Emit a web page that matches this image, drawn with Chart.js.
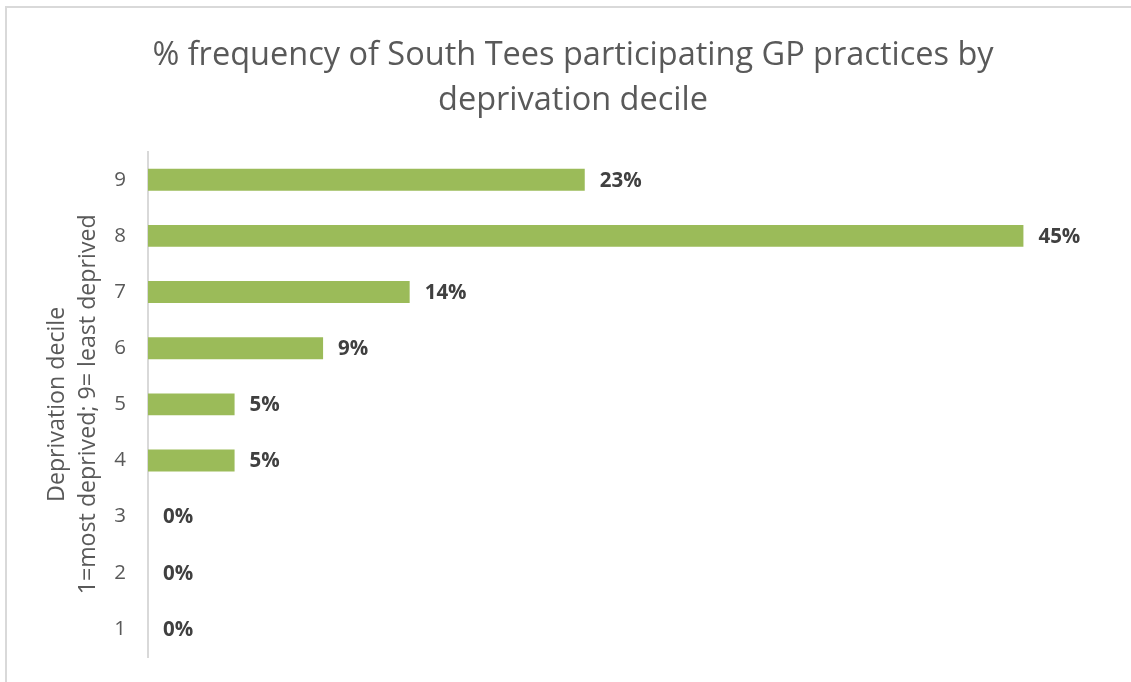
<!DOCTYPE html>
<html>
<head>
<meta charset="utf-8">
<script src="https://cdn.jsdelivr.net/npm/chart.js@4/dist/chart.umd.min.js"></script>
<style>
html,body{margin:0;padding:0;background:#fff;}
#wrap{width:1131px;height:682px;position:relative;}
</style>
</head>
<body>
<div id="wrap"><canvas id="c" width="1131" height="682"></canvas></div>
<script>
const titleLines = ['% frequency of South Tees participating GP practices by', 'deprivation decile'];
const axisTitleLines = ['Deprivation decile', '1=most deprived; 9= least deprived'];
const deciles = ['9', '8', '7', '6', '5', '4', '3', '2', '1'];
const percentValues = [22.7, 45.5, 13.6, 9.1, 4.5, 4.5, 0, 0, 0];
const percentLabels = ['23%', '45%', '14%', '9%', '5%', '5%', '0%', '0%', '0%'];
const xMax = 50;

const FONT = '"Open Sans", Lato, sans-serif';

const framePlugin = {
  id: 'frame',
  beforeDraw(chart) {
    const ctx = chart.ctx;
    ctx.save();
    ctx.fillStyle = '#fff';
    ctx.fillRect(0, 0, chart.width, chart.height);
    ctx.strokeStyle = '#d9d9d9';
    ctx.lineWidth = 2;
    ctx.beginPath();
    ctx.moveTo(6, chart.height + 5);
    ctx.lineTo(6, 7);
    ctx.lineTo(chart.width + 5, 7);
    ctx.stroke();
    ctx.restore();
  }
};

const labelPlugin = {
  id: 'valueLabels',
  afterDatasetsDraw(chart) {
    const ctx = chart.ctx;
    const meta = chart.getDatasetMeta(0);
    ctx.save();
    ctx.font = 'bold 20.5px ' + FONT;
    ctx.fillStyle = '#404040';
    ctx.textAlign = 'left';
    ctx.textBaseline = 'middle';
    meta.data.forEach((bar, i) => {
      ctx.fillText(percentLabels[i], bar.x + 15, bar.y + 1);
    });
    ctx.restore();
  }
};

new Chart(document.getElementById('c'), {
  type: 'bar',
  data: {
    labels: deciles,
    datasets: [{
      data: percentValues,
      backgroundColor: '#9bbb59',
      borderWidth: 0,
      categoryPercentage: 1,
      barPercentage: 0.39
    }]
  },
  options: {
    indexAxis: 'y',
    responsive: false,
    animation: false,
    devicePixelRatio: 1,
    layout: { padding: { left: 36, right: 21, top: 21, bottom: 25 } },
    plugins: {
      legend: { display: false },
      tooltip: { enabled: false },
      title: {
        display: true,
        text: titleLines,
        color: '#595959',
        font: { family: FONT, size: 32.5, weight: 'normal', lineHeight: 1.38 },
        padding: { top: 12, bottom: 29 }
      }
    },
    scales: {
      x: {
        display: false,
        min: 0,
        max: xMax
      },
      y: {
        afterFit(scale) {
          scale.width = 112;
          scale.paddingTop = 0;
          scale.paddingBottom = 0;
        },
        grid: { display: false, drawTicks: false },
        border: { display: true, color: '#d9d9d9', width: 2 },
        ticks: {
          color: '#595959',
          padding: 22,
          font: { family: FONT, size: 20.5 }
        },
        title: {
          display: true,
          text: axisTitleLines,
          color: '#595959',
          font: { family: FONT, size: 23.2, lineHeight: 1.34 },
          padding: { top: 6, bottom: 0 }
        }
      }
    }
  },
  plugins: [framePlugin, labelPlugin]
});
</script>
</body>
</html>
